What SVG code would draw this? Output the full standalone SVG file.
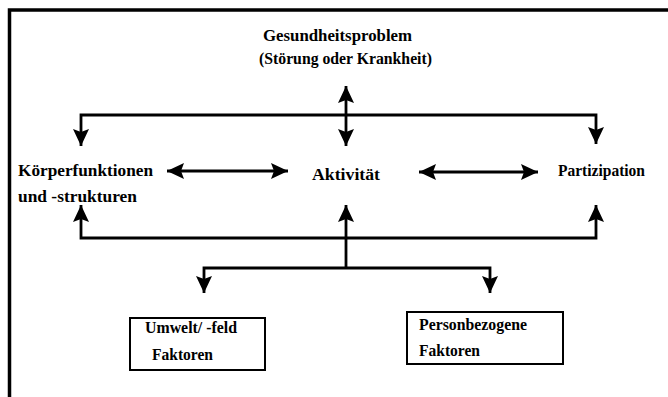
<svg xmlns="http://www.w3.org/2000/svg" width="668" height="397" viewBox="0 0 668 397">
<style>
.t{font-family:"Liberation Serif","DejaVu Serif",serif;font-weight:bold;font-size:17px;fill:#000}
.c{fill:none;stroke:#000;stroke-width:2.8}
.box{fill:#fff;stroke:#000;stroke-width:2}
.frame{fill:none;stroke:#000;stroke-width:3.5}
</style>
<defs>
<marker id="ah" markerUnits="userSpaceOnUse" markerWidth="18" markerHeight="18" refX="17" refY="9" orient="auto-start-reverse" viewBox="0 0 18 18">
<path d="M0,1 L17,9 L0,17 L3,9 Z" fill="#000"/>
</marker>
</defs>
<rect width="668" height="397" fill="#fff"/>
<path class="frame" d="M9.5,397 L9.5,10 L668,10"/>
<g id="connectors">
<line class="c" x1="346" y1="115" x2="346" y2="86" marker-end="url(#ah)"/>
<path class="c" d="M81,146 L81,115 L596,115 L596,144" marker-start="url(#ah)" marker-end="url(#ah)"/>
<line class="c" x1="346" y1="115" x2="346" y2="146" marker-end="url(#ah)"/>
<line class="c" x1="167" y1="171" x2="288" y2="171" marker-start="url(#ah)" marker-end="url(#ah)"/>
<line class="c" x1="419" y1="172" x2="538" y2="172" marker-start="url(#ah)" marker-end="url(#ah)"/>
<path class="c" d="M81,205 L81,238 L596,238 L596,205" marker-start="url(#ah)" marker-end="url(#ah)"/>
<line class="c" x1="346" y1="268" x2="346" y2="205" marker-end="url(#ah)"/>
<path class="c" d="M204,293 L204,268 L490,268 L490,293" marker-start="url(#ah)" marker-end="url(#ah)"/>
</g>
<g id="gesundheitsproblem">
<text class="t" x="263" y="41" textLength="149" lengthAdjust="spacingAndGlyphs">Gesundheitsproblem</text>
<text class="t" x="259" y="64" textLength="173" lengthAdjust="spacingAndGlyphs">(Störung oder Krankheit)</text>
</g>
<g id="koerperfunktionen">
<text class="t" x="18" y="176" textLength="135" lengthAdjust="spacingAndGlyphs">Körperfunktionen</text>
<text class="t" x="18" y="202" textLength="119" lengthAdjust="spacingAndGlyphs">und -strukturen</text>
</g>
<g id="aktivitaet">
<text class="t" x="312" y="180" textLength="68" lengthAdjust="spacingAndGlyphs">Aktivität</text>
</g>
<g id="partizipation">
<text class="t" x="558" y="176" textLength="87" lengthAdjust="spacingAndGlyphs">Partizipation</text>
</g>
<g id="umwelt">
<rect class="box" x="130" y="318" width="135" height="52"/>
<text class="t" x="145" y="333" textLength="92" lengthAdjust="spacingAndGlyphs">Umwelt/ -feld</text>
<text class="t" x="152" y="360" textLength="61" lengthAdjust="spacingAndGlyphs">Faktoren</text>
</g>
<g id="personbezogen">
<rect class="box" x="407" y="312" width="156" height="52"/>
<text class="t" x="419" y="330" textLength="108" lengthAdjust="spacingAndGlyphs">Personbezogene</text>
<text class="t" x="419" y="356" textLength="61" lengthAdjust="spacingAndGlyphs">Faktoren</text>
</g>
</svg>
